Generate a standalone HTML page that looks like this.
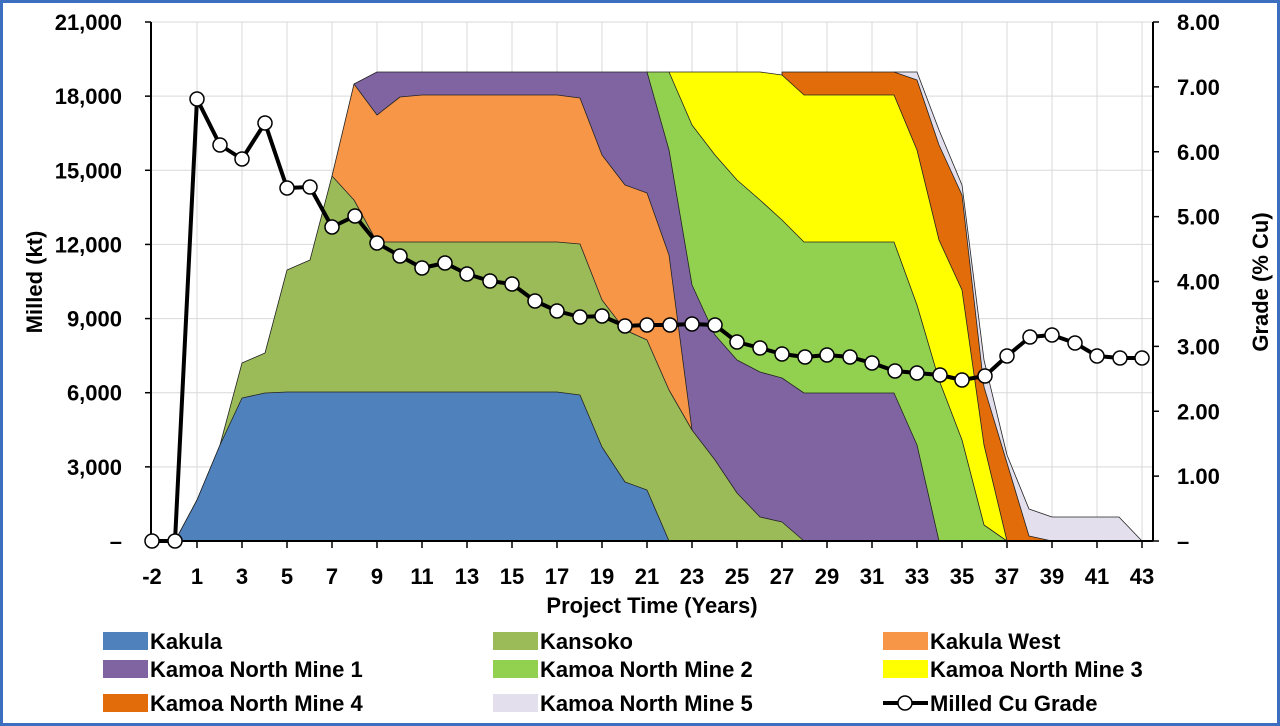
<!DOCTYPE html>
<html><head><meta charset="utf-8"><style>
html,body{margin:0;padding:0;background:#fff}
svg{display:block}
text{font-family:"Liberation Sans",Arial,sans-serif;font-weight:bold;fill:#000}
</style></head><body>
<svg width="1280" height="726" viewBox="0 0 1280 726" xmlns="http://www.w3.org/2000/svg">
<rect x="1.5" y="1.5" width="1277" height="723" fill="#fff" stroke="#3c6fbf" stroke-width="3"/>
<g id="grid" stroke="#d9d9d9" stroke-width="1"></g>
<g stroke="#222" stroke-width="0.8" stroke-linejoin="round">
<polygon fill="#e3dfec" points="894,72 917,72 939,130 962,185 984,360 1007,455 1029,509 1052,517 1119,517 1142,541 894,541"/>
<polygon fill="#e36c0a" points="782,72 894,72 917,80 939,145 962,195 984,387 1007,463 1029,536 1052,541 782,541"/>
<polygon fill="#ffff00" points="669,72 760,72 782,75 804,95 894,95 917,150 939,240 962,290 984,445 1007,541 669,541"/>
<polygon fill="#92d050" points="647,72 669,72 692,125 715,155 737,180 760,200 782,220 804,242 894,242 917,305 939,380 962,440 984,525 1007,541 647,541"/>
<polygon fill="#8064a2" points="354,84 377,72 647,72 669,150 692,285 715,335 737,360 760,372 782,378 804,393 894,393 917,445 939,541 354,541"/>
<polygon fill="#f79646" points="332,176 354,84 377,115 400,97 422,95 557,95 580,98 602,155 625,185 647,193 669,255 692,430 692,541 332,541"/>
<polygon fill="#9bbb59" points="175,541 197,500 220,445 242,363 265,353 287,270 310,260 332,176 354,200 377,242 557,242 580,244 602,300 625,330 647,340 669,390 692,430 715,460 737,493 760,517 782,522 804,541"/>
<polygon fill="#4f81bd" points="175,541 197,500 220,445 242,398 265,393 287,392 557,392 580,395 602,447 625,482 647,490 669,541"/>
</g>
<g stroke="#000" stroke-width="2" fill="none">
<line x1="151" y1="22" x2="151" y2="541"/>
<line x1="1153" y1="22" x2="1153" y2="541"/>
<line x1="151" y1="541" x2="1153" y2="541"/>
</g>
<g id="ticks" stroke="#000" stroke-width="1.5"></g>
<polyline id="grade" fill="none" stroke="#000" stroke-width="4" stroke-linejoin="round"/>
<g id="marks" fill="#fff" stroke="#000" stroke-width="1.5"></g>
<g id="labels" font-size="22"></g>
<text transform="translate(42,282) rotate(-90)" text-anchor="middle" font-size="22">Milled (kt)</text>
<text transform="translate(1268,282) rotate(-90)" text-anchor="middle" font-size="22">Grade (% Cu)</text>
<text x="652" y="613" text-anchor="middle" font-size="22">Project Time (Years)</text>
<g font-size="22">
<rect x="103" y="632" width="45" height="18" fill="#4f81bd"/><text x="150" y="649">Kakula</text>
<rect x="493" y="632" width="45" height="18" fill="#9bbb59"/><text x="540" y="649">Kansoko</text>
<rect x="883" y="632" width="45" height="18" fill="#f79646"/><text x="930" y="649">Kakula West</text>
<rect x="103" y="660" width="45" height="18" fill="#8064a2"/><text x="150" y="677">Kamoa North Mine 1</text>
<rect x="493" y="660" width="45" height="18" fill="#92d050"/><text x="540" y="677">Kamoa North Mine 2</text>
<rect x="883" y="660" width="45" height="18" fill="#ffff00"/><text x="930" y="677">Kamoa North Mine 3</text>
<rect x="103" y="694" width="45" height="18" fill="#e36c0a"/><text x="150" y="711">Kamoa North Mine 4</text>
<rect x="493" y="694" width="45" height="18" fill="#e3dfec"/><text x="540" y="711">Kamoa North Mine 5</text>
<line x1="883" y1="703" x2="928" y2="703" stroke="#000" stroke-width="4"/><circle cx="905" cy="703" r="7" fill="#fff" stroke="#000" stroke-width="1.5"/><text x="930" y="711">Milled Cu Grade</text>
</g>
</svg>
<script>
var NS="http://www.w3.org/2000/svg";
function el(p,t,a,txt){var e=document.createElementNS(NS,t);for(var k in a)e.setAttribute(k,a[k]);if(txt!=null)e.textContent=txt;document.getElementById(p).appendChild(e);}
for(var k=1;k<=7;k++){var y=541-k*519/7;el("grid","line",{x1:151,x2:1153,y1:y,y2:y});}
for(var x=197;x<=1143;x+=45){el("grid","line",{x1:x,x2:x,y1:22,y2:541});el("ticks","line",{x1:x,x2:x,y1:541,y2:548});}
var L=["–","3,000","6,000","9,000","12,000","15,000","18,000","21,000"];
for(var k=0;k<=7;k++){var y=541-k*519/7;el("ticks","line",{x1:145,x2:151,y1:y,y2:y});el("labels","text",{x:122,y:y+8,"text-anchor":"end"},L[k]);}
for(var k=0;k<=8;k++){var y=541-k*519/8;el("ticks","line",{x1:1153,x2:1159,y1:y,y2:y});el("labels","text",{x:1177,y:y+8},k==0?"–":k.toFixed(2));}
el("labels","text",{x:152,y:584,"text-anchor":"middle"},"-2");
for(var y=1,i=0;y<=43;y+=2,i++)el("labels","text",{x:197+45*i,y:584,"text-anchor":"middle"},String(y));
var G=[[152,541],[175,541],[197,99],[220,145],[242,159],[265,123],[287,188],[310,187],[332,227],[355,216],[377,243],[400,256],[422,268],[445,263],[467,274],[490,281],[512,284],[535,301],[557,311],[580,317],[602,316],[625,326],[647,325],[670,325],[692,324],[715,325],[737,342],[760,348],[782,354],[805,357],[827,355],[850,357],[872,363],[895,371],[917,373],[940,375],[962,380],[985,376],[1007,356],[1030,337],[1052,335],[1075,343],[1097,356],[1120,358],[1142,358]];
document.getElementById("grade").setAttribute("points",G.map(function(p){return p.join(",")}).join(" "));
G.forEach(function(p){el("marks","circle",{cx:p[0],cy:p[1],r:7});});
</script>
</body></html>
